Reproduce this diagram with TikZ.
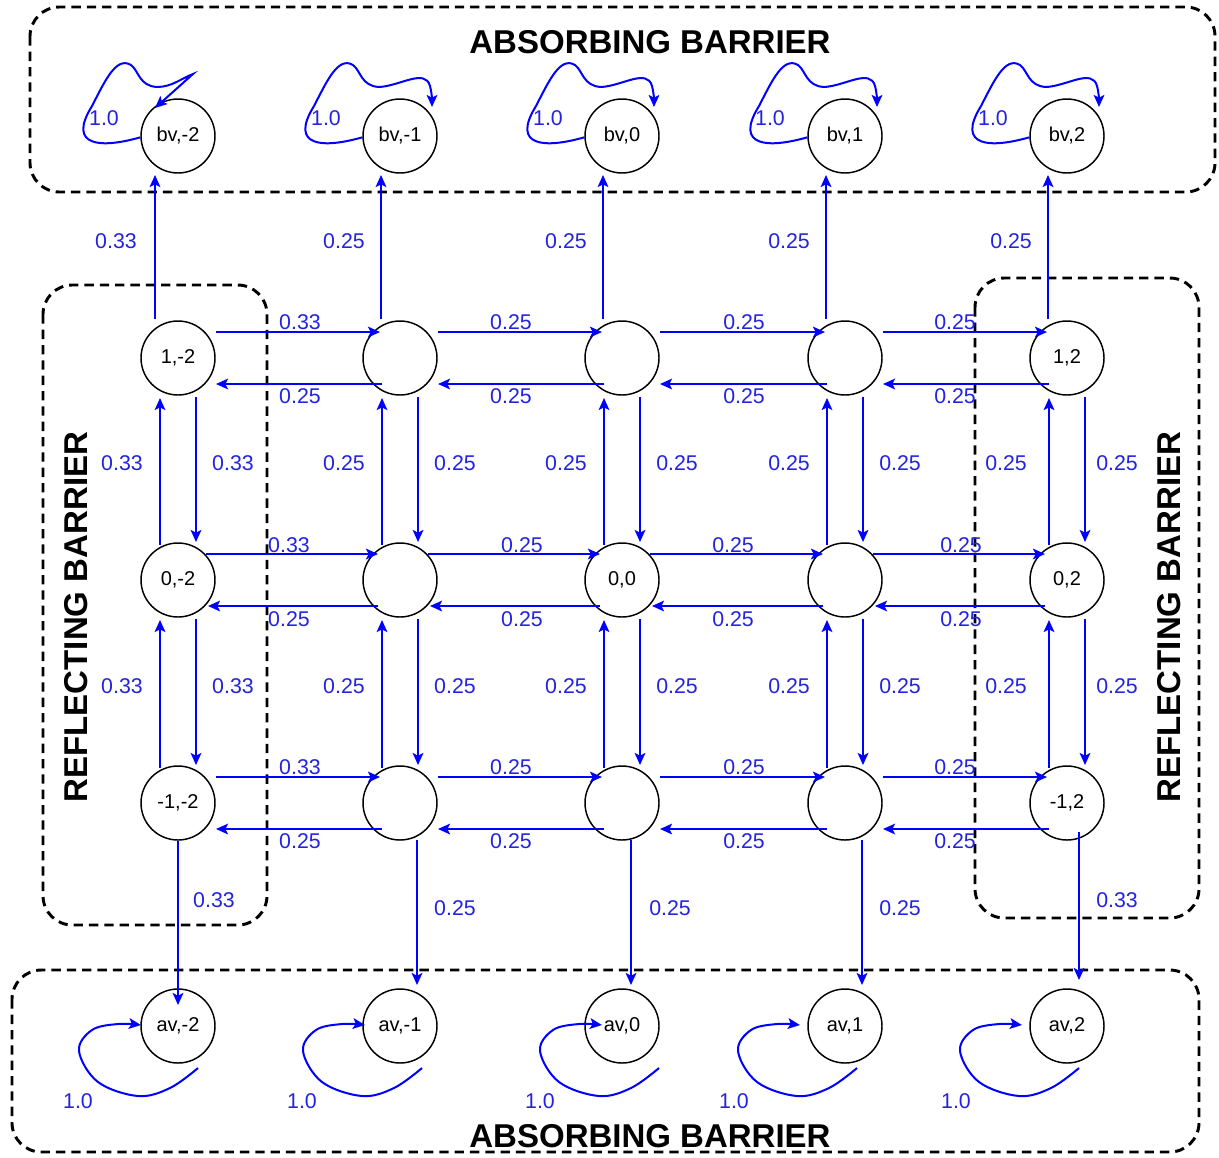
\documentclass[tikz,border=0pt]{standalone}
\usepackage{fontspec}
\setmainfont{Liberation Sans}
\usetikzlibrary{arrows.meta,calc}
\definecolor{edgeblue}{RGB}{0,0,255}
\definecolor{labelblue}{RGB}{35,35,225}
\begin{document}
\begin{tikzpicture}[x=0.75pt,y=-0.75pt,
  state/.style={circle,draw=black,line width=1.1pt,minimum size=55.5pt,inner sep=0pt,
    font=\fontsize{15}{16}\selectfont},
  edge/.style={draw=edgeblue,line width=1.5pt,-{Stealth[length=9pt,width=8pt,inset=2pt]}},
  prob/.style={text=labelblue,font=\fontsize{16}{18}\selectfont,inner sep=0pt},
  title/.style={font=\fontsize{24.75}{26}\selectfont\bfseries,inner sep=0pt},
  barrier/.style={draw=black,line width=2.2pt,dash pattern=on 7pt off 4.5pt,rounded corners=22pt}]

\fill[white] (0,0) rectangle (1219,1157);
\useasboundingbox (0,0) rectangle (1219,1157);

% dashed barrier regions
\draw[barrier] (30,7) rectangle (1215,192);
\draw[barrier] (12,970) rectangle (1199,1152);
\draw[barrier] (43,285) rectangle (267,925);
\draw[barrier] (975,278) rectangle (1199,918);

\node[title] (tTop) at (650,42) {ABSORBING BARRIER};
\node[title] (tBot) at (650,1136) {ABSORBING BARRIER};
\node[title,rotate=90] (tLeft) at (76,617) {REFLECTING BARRIER};
\node[title,rotate=90] (tRight) at (1169,617) {REFLECTING BARRIER};

% states
\node[state] (Ba) at (178,136) {bv,-2};
\node[state] (Bb) at (400,136) {bv,-1};
\node[state] (Bc) at (622,136) {bv,0};
\node[state] (Bd) at (845,136) {bv,1};
\node[state] (Be) at (1067,136) {bv,2};

\node[state] (Ta) at (178,358) {1,-2};
\node[state] (Tb) at (400,358) {};
\node[state] (Tc) at (622,358) {};
\node[state] (Td) at (845,358) {};
\node[state] (Te) at (1067,358) {1,2};

\node[state] (Ma) at (178,580) {0,-2};
\node[state] (Mb) at (400,580) {};
\node[state] (Mc) at (622,580) {0,0};
\node[state] (Md) at (845,580) {};
\node[state] (Me) at (1067,580) {0,2};

\node[state] (La) at (178,803) {-1,-2};
\node[state] (Lb) at (400,803) {};
\node[state] (Lc) at (622,803) {};
\node[state] (Ld) at (845,803) {};
\node[state] (Le) at (1067,803) {-1,2};

\node[state] (Aa) at (178,1026) {av,-2};
\node[state] (Ab) at (400,1026) {av,-1};
\node[state] (Ac) at (622,1026) {av,0};
\node[state] (Ad) at (845,1026) {av,1};
\node[state] (Ae) at (1067,1026) {av,2};

% horizontal transitions
\foreach \a/\b in {a/b,b/c,c/d,d/e} {
  \foreach \r in {T,L} {
    \draw[edge] ($(\r\a)+(38,-26)$) -- ($(\r\b)+(-20,-26)$);
    \draw[edge] ($(\r\b)+(-18,26)$) -- ($(\r\a)+(38,26)$);
  }
  \draw[edge] ($(M\a)+(28,-26)$) -- ($(M\b)+(-22,-26)$);
  \draw[edge] ($(M\b)+(-22,26)$) -- ($(M\a)+(30,26)$);
}

% vertical transitions
\foreach \c in {a,b,c,d,e} {
  \foreach \u/\l in {T/M,M/L} {
    \draw[edge] ($(\l\c)+(-18,-35)$) -- ($(\u\c)+(-18,40)$);
    \draw[edge] ($(\u\c)+(18,39)$) -- ($(\l\c)+(18,-38)$);
  }
}

% into the absorbing states above
\draw[edge] ($(Ta)+(-23,-39)$) -- ($(Ba)+(-23,39)$);
\foreach \c in {b,c,d,e}
  \draw[edge] ($(T\c)+(-19,-39)$) -- ($(B\c)+(-19,39)$);

% into the absorbing states below
\draw[edge] ($(La)+(0,38)$) -- ($(Aa)+(0,-21)$);
\draw[edge] ($(Lb)+(17,37)$) -- ($(Ab)+(17,-41)$);
\draw[edge] ($(Lc)+(9,37)$) -- ($(Ac)+(9,-41)$);
\draw[edge] ($(Ld)+(17,37)$) -- ($(Ad)+(17,-41)$);
\draw[edge] ($(Le)+(12,29)$) -- ($(Ae)+(12,-46)$);

% self loops of the upper absorbing states
\begin{scope}[shift={(Ba.center)}]
  \draw[edge] (Ba.182)
    .. controls (-75,12) and (-112,12) .. (-86,-30)
    .. controls (-73,-55) and (-62,-80) .. (-47,-71)
    .. controls (-39,-65) and (-39,-50) .. (-21,-49)
    .. controls (-6,-49) and (4,-58) .. (15,-62)
    -- (-23,-28);
\end{scope}
\foreach \n in {Bb,Bc,Bd,Be} {
  \begin{scope}[shift={(\n.center)}]
    \draw[edge] (\n.182)
      .. controls (-75,12) and (-112,12) .. (-86,-30)
      .. controls (-73,-55) and (-62,-80) .. (-47,-71)
      .. controls (-39,-65) and (-39,-50) .. (-21,-49)
      .. controls (0,-50) and (25,-68) .. (30,-50)
      .. controls (32,-42) and (32,-36) .. (32,-29);
  \end{scope}
}

% self loops of the lower absorbing states
\foreach \n/\s in {Aa/0,Ab/2,Ac/17,Ad/-8,Ae/-8} {
  \begin{scope}[shift={($(\n.center)+(\s,0)$)}]
    \draw[edge] plot[smooth,tension=0.6] coordinates
      {(20,42) (-8,62) (-40,70) (-80,56) (-99,25) (-86,4) (-60,-2) (-37,-1)};
  \end{scope}
}

% transition probabilities
\foreach \x/\y/\t [count=\i] in {
  116/241/0.33, 344/241/0.25, 566/241/0.25, 789/241/0.25, 1011/241/0.25,
  300/322/0.33, 511/322/0.25, 744/322/0.25, 955/322/0.25,
  300/396/0.25, 511/396/0.25, 744/396/0.25, 955/396/0.25,
  122/463/0.33, 233/463/0.33, 344/463/0.25, 455/463/0.25, 566/463/0.25,
  677/463/0.25, 789/463/0.25, 900/463/0.25, 1006/463/0.25, 1117/463/0.25,
  289/545/0.33, 522/545/0.25, 733/545/0.25, 961/545/0.25,
  289/619/0.25, 522/619/0.25, 733/619/0.25, 961/619/0.25,
  122/686/0.33, 233/686/0.33, 344/686/0.25, 455/686/0.25, 566/686/0.25,
  677/686/0.25, 789/686/0.25, 900/686/0.25, 1006/686/0.25, 1117/686/0.25,
  300/767/0.33, 511/767/0.25, 744/767/0.25, 955/767/0.25,
  300/841/0.25, 511/841/0.25, 744/841/0.25, 955/841/0.25,
  214/900/0.33, 455/908/0.25, 670/908/0.25, 900/908/0.25, 1117/900/0.33,
  104/118/1.0, 326/118/1.0, 548/118/1.0, 770/118/1.0, 993/118/1.0,
  78/1101/1.0, 302/1101/1.0, 540/1101/1.0, 734/1101/1.0, 956/1101/1.0}
  \node[prob] (p\i) at (\x,\y) {\t};

\end{tikzpicture}
\end{document}
